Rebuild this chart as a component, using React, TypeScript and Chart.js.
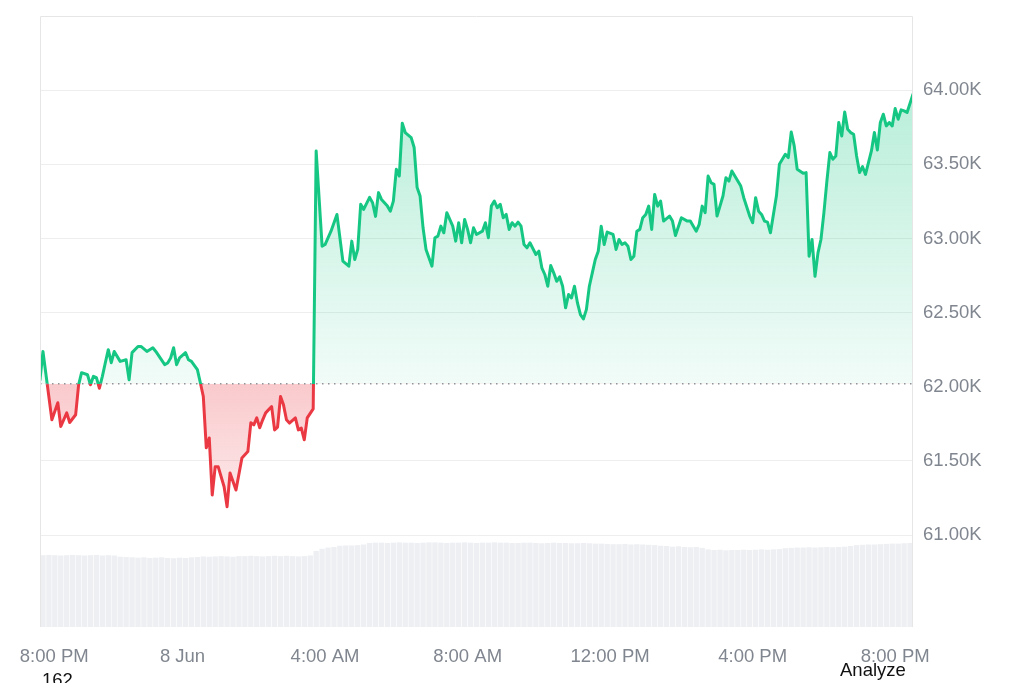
import React, { useEffect, useRef } from 'react';
import { Chart, registerables } from 'chart.js';

Chart.register(...registerables);

// ---- data ----
const BASELINE = 62020; // opening price of the 24h window (dotted line)

// minutes after 8:00 PM (7 Jun)
const TIMES = [
  0, 5, 20, 30, 35, 45, 50, 60, 65, 70, 80, 85, 90, 95, 100, 105, 110, 115, 120, 125,
  135, 145, 150, 155, 165, 170, 180, 190, 195, 210, 215, 220, 225, 230, 235, 245, 250, 255, 265, 270,
  275, 280, 285, 290, 295, 300, 310, 315, 320, 330, 340, 350, 355, 360, 365, 370, 375, 380, 390, 395,
  400, 405, 410, 415, 420, 430, 435, 440, 445, 450, 460, 465, 475, 480, 490, 500, 510, 520, 525, 530,
  535, 540, 545, 555, 560, 565, 570, 575, 585, 590, 595, 600, 605, 610, 615, 625, 630, 635, 640, 645,
  650, 660, 665, 670, 675, 680, 685, 695, 700, 705, 710, 715, 720, 725, 730, 735, 745, 750, 755, 760,
  765, 770, 775, 780, 785, 790, 795, 800, 805, 810, 815, 820, 825, 835, 840, 845, 850, 855, 860, 865,
  870, 875, 880, 885, 890, 895, 900, 905, 910, 915, 920, 925, 930, 935, 940, 945, 950, 955, 965, 970,
  975, 980, 985, 990, 995, 1000, 1005, 1010, 1015, 1020, 1025, 1030, 1035, 1040, 1045, 1050, 1060, 1065, 1070, 1080,
  1090, 1095, 1105, 1110, 1115, 1120, 1125, 1130, 1135, 1140, 1150, 1155, 1160, 1165, 1175, 1180, 1185, 1195, 1200, 1205,
  1210, 1215, 1220, 1225, 1230, 1240, 1245, 1250, 1255, 1260, 1265, 1270, 1275, 1285, 1290, 1295, 1300, 1305, 1310, 1315,
  1320, 1325, 1330, 1335, 1340, 1345, 1350, 1355, 1360, 1365, 1370, 1375, 1380, 1385, 1390, 1400, 1405, 1410, 1415, 1420,
  1425, 1430, 1435, 1440, 1445, 1450, 1455, 1460, 1470,
];

const PRICES = [
  62047, 62238, 61777, 61892, 61732, 61824, 61759, 61811, 62013, 62095, 62081, 62013, 62070, 62061, 61990, 62070, 62162, 62250, 62162, 62238,
  62171, 62182, 62047, 62230, 62272, 62272, 62238, 62263, 62238, 62149, 62160, 62194, 62263, 62149, 62194, 62230, 62182, 62171, 62115, 62027,
  61934, 61588, 61655, 61270, 61461, 61461, 61326, 61191, 61419, 61304, 61520, 61563, 61757, 61743, 61790, 61723, 61777, 61824, 61867, 61709,
  61728, 61934, 61878, 61777, 61755, 61790, 61709, 61721, 61642, 61790, 61851, 63590, 62948, 62959, 63049, 63162, 62847, 62813, 62982, 62858,
  62926, 63230, 63196, 63277, 63241, 63149, 63309, 63263, 63218, 63184, 63252, 63466, 63421, 63777, 63714, 63680, 63613, 63343, 63286, 63072,
  62926, 62813, 63005, 63016, 63083, 63038, 63174, 63083, 62982, 63106, 62971, 63128, 63061, 62971, 63072, 63027, 63049, 63106, 63005, 63218,
  63252, 63207, 63230, 63140, 63162, 63061, 63106, 63083, 63110, 63083, 62959, 62937, 62971, 62892, 62914, 62802, 62757, 62678, 62818, 62768,
  62711, 62741, 62678, 62532, 62622, 62599, 62678, 62565, 62486, 62457, 62520, 62678, 62768, 62858, 62914, 63083, 62959, 63043, 63027, 62926,
  62993, 62959, 62971, 62948, 62858, 62880, 63049, 63061, 63140, 63162, 63218, 63061, 63297, 63218, 63252, 63117, 63151, 63117, 63020, 63140,
  63117, 63117, 63049, 63095, 63218, 63174, 63421, 63376, 63365, 63151, 63286, 63410, 63387, 63455, 63387, 63353, 63275, 63151, 63106, 63275,
  63184, 63162, 63117, 63110, 63038, 63286, 63500, 63534, 63568, 63545, 63718, 63624, 63466, 63439, 63444, 62880, 62993, 62745, 62903, 62993,
  63174, 63387, 63579, 63534, 63556, 63782, 63691, 63853, 63736, 63714, 63703, 63556, 63444, 63484, 63432, 63590, 63714, 63597, 63782, 63838,
  63759, 63782, 63759, 63876, 63804, 63867, 63860, 63849, 63973,
];

// rolling 24h volume (billion USD), one bar per 10 minutes
const VOLUME_STEP_MIN = 10;
const VOLUME = [
  23.5, 23.6, 23.5, 23.4, 23.5, 23.6, 23.5, 23.4, 23.5, 23.6, 23.4, 23.5, 23.4,
  23.0, 22.9, 22.8, 22.7, 22.8, 22.6, 22.7, 22.8, 22.6, 22.5, 22.7, 22.6, 22.8, 22.9,
  23.1, 23.0, 23.1, 23.2, 23.1, 23.0, 23.2, 23.2, 23.3, 23.2, 23.1, 23.2, 23.3, 23.2, 23.3, 23.2, 23.1, 23.2, 23.4,
  24.9, 25.6, 26.0, 26.2,
  26.6, 26.7, 26.7, 26.8, 27.0,
  27.5, 27.6, 27.6, 27.5, 27.6, 27.7, 27.6, 27.6, 27.5, 27.6, 27.7, 27.7, 27.6, 27.5, 27.6, 27.6, 27.7, 27.6, 27.5, 27.6,
  27.6, 27.7, 27.6, 27.6, 27.5, 27.5, 27.6, 27.6, 27.5, 27.4, 27.5, 27.6, 27.5, 27.5, 27.4, 27.4, 27.5, 27.4, 27.3, 27.3,
  27.2, 27.1, 27.1, 27.2, 27.0, 27.1, 27.0, 26.9, 26.8,
  26.6, 26.5, 26.3, 26.4, 26.2, 26.1, 26.2, 25.9,
  25.4, 25.2, 25.3, 25.1, 25.2, 25.2, 25.3, 25.2, 25.3, 25.4, 25.3, 25.4, 25.5,
  25.8, 25.9, 26.0, 26.0, 26.1, 26.0, 26.1, 26.2, 26.1, 26.2, 26.3, 26.5,
  26.8, 26.9, 27.0, 27.0, 27.1, 27.2, 27.3, 27.3, 27.4, 27.5,
];

const X_MAX = 1470;
const X_TICK_VALUES = [24, 240, 480, 720, 960, 1200, 1440];
const X_TICK_LABELS = ['8:00 PM', '8 Jun', '4:00 AM', '8:00 AM', '12:00 PM', '4:00 PM', '8:00 PM'];
const Y_MIN = 60380;
const Y_MAX = 64500;
const Y_TICK_VALUES = [61000, 61500, 62000, 62500, 63000, 63500, 64000];
const VOL_AXIS_MAX = 200;

// ---- styles ----
const GREEN = '#16c784';
const RED = '#ea3943';
const TICK_COLOR = '#80868f';
const FONT_FAMILY = '"Liberation Sans", Arial, Helvetica, sans-serif';

function clamp01(v: number) {
  return Math.max(0, Math.min(1, v));
}

function lineColor(c: any) {
  const chart = c.chart;
  const area = chart.chartArea;
  if (!area || !chart.scales.y) return GREEN;
  const by = chart.scales.y.getPixelForValue(BASELINE);
  const f = clamp01((by - area.top) / (area.bottom - area.top));
  const g = chart.ctx.createLinearGradient(0, area.top, 0, area.bottom);
  g.addColorStop(0, GREEN);
  g.addColorStop(f, GREEN);
  g.addColorStop(f, RED);
  g.addColorStop(1, RED);
  return g;
}

function fillOption(c: any) {
  const chart = c.chart;
  const area = chart.chartArea;
  if (!area || !chart.scales.y) {
    return { target: { value: BASELINE }, above: 'rgba(22,199,132,0.15)', below: 'rgba(234,57,67,0.2)' };
  }
  const y = chart.scales.y;
  const by = y.getPixelForValue(BASELINE);
  const topY = y.getPixelForValue(64000);
  const lowY = y.getPixelForValue(61150);
  const above = chart.ctx.createLinearGradient(0, topY, 0, by);
  above.addColorStop(0, 'rgba(22,199,132,0.30)');
  above.addColorStop(1, 'rgba(22,199,132,0.06)');
  const below = chart.ctx.createLinearGradient(0, by, 0, lowY);
  below.addColorStop(0, 'rgba(234,57,67,0.27)');
  below.addColorStop(1, 'rgba(234,57,67,0.10)');
  return { target: { value: BASELINE }, above, below };
}

const framePlugin = {
  id: 'frame',
  afterDraw(chart: any) {
    const { ctx, chartArea } = chart;
    const { left, right, top, bottom } = chartArea;
    ctx.save();
    ctx.strokeStyle = '#e6e6e6';
    ctx.lineWidth = 1;
    ctx.beginPath();
    ctx.moveTo(Math.round(left) + 0.5, bottom);
    ctx.lineTo(Math.round(left) + 0.5, Math.round(top) + 0.5);
    ctx.lineTo(Math.round(right) - 0.5, Math.round(top) + 0.5);
    ctx.lineTo(Math.round(right) - 0.5, bottom);
    ctx.stroke();
    ctx.restore();
  },
};

export default function App() {
  const canvasRef = useRef<HTMLCanvasElement | null>(null);

  useEffect(() => {
    const canvas = canvasRef.current;
    if (!canvas) return;

    const pricePoints = TIMES.map((t, i) => ({ x: t, y: PRICES[i] }));
    const volumePoints = VOLUME.map((v, i) => ({ x: i * VOLUME_STEP_MIN + VOLUME_STEP_MIN / 2, y: v }));
    const baselinePoints = [
      { x: 0, y: BASELINE },
      { x: X_MAX, y: BASELINE },
    ];

    const chart = new Chart(canvas, {
      type: 'line',
      data: {
        datasets: [
          {
            type: 'line',
            label: 'Open',
            data: baselinePoints,
            borderColor: '#8f959d',
            borderWidth: 1.4,
            borderDash: [1.5, 4.5],
            pointRadius: 0,
            fill: false,
            order: 0,
          } as any,
          {
            type: 'line',
            label: 'Price',
            data: pricePoints,
            borderColor: lineColor,
            borderWidth: 3,
            borderJoinStyle: 'round',
            borderCapStyle: 'round',
            pointRadius: 0,
            tension: 0,
            fill: fillOption,
            order: 1,
          } as any,
          {
            type: 'bar',
            label: 'Volume',
            data: volumePoints,
            yAxisID: 'yVol',
            backgroundColor: '#edeff2',
            borderWidth: 0,
            barPercentage: 0.9,
            categoryPercentage: 1,
            order: 2,
          } as any,
        ],
      },
      options: {
        responsive: true,
        maintainAspectRatio: false,
        animation: false,
        events: [],
        layout: { padding: { left: 40, top: 16, right: 0, bottom: 0 } },
        plugins: {
          legend: { display: false },
          tooltip: { enabled: false },
        },
        scales: {
          x: {
            type: 'linear',
            min: 0,
            max: X_MAX,
            offset: false,
            grid: { display: false },
            border: { display: false },
            afterBuildTicks: (s: any) => {
              s.ticks = X_TICK_VALUES.map((v) => ({ value: v }));
            },
            afterFit: (s: any) => {
              s.height = 56;
              s.paddingLeft = 0;
              s.paddingRight = 0;
            },
            ticks: {
              autoSkip: false,
              maxRotation: 0,
              minRotation: 0,
              padding: 11,
              color: TICK_COLOR,
              font: { family: FONT_FAMILY, size: 18.5 },
              callback: (_v: any, i: number) => X_TICK_LABELS[i],
            },
          },
          y: {
            type: 'linear',
            position: 'right',
            min: Y_MIN,
            max: Y_MAX,
            afterBuildTicks: (s: any) => {
              s.ticks = Y_TICK_VALUES.map((v) => ({ value: v }));
            },
            afterFit: (s: any) => {
              s.width = 111;
              s.paddingTop = 0;
              s.paddingBottom = 0;
            },
            grid: {
              drawTicks: false,
              color: (c: any) => (c.tick && c.tick.value === 62000 ? 'rgba(0,0,0,0)' : '#eeeeee'),
              lineWidth: 1,
            },
            border: { display: false },
            ticks: {
              padding: 10,
              color: TICK_COLOR,
              font: { family: FONT_FAMILY, size: 18.5 },
              callback: (v: any) => (Number(v) / 1000).toFixed(2) + 'K',
            },
          },
          yVol: {
            type: 'linear',
            display: false,
            min: 0,
            max: VOL_AXIS_MAX,
          },
        },
      } as any,
      plugins: [framePlugin],
    });

    return () => {
      chart.destroy();
    };
  }, []);

  const textStyle: React.CSSProperties = {
    position: 'absolute',
    fontFamily: FONT_FAMILY,
    fontSize: 18.5,
    color: '#111',
    lineHeight: 'normal',
    whiteSpace: 'nowrap',
  };

  return (
    <div
      style={{
        position: 'absolute',
        left: 0,
        top: 0,
        width: 1024,
        height: 683,
        overflow: 'hidden',
        background: '#fff',
      }}
    >
      <div style={{ position: 'absolute', left: 0, top: 0, width: 1024, height: 683 }}>
        <canvas ref={canvasRef} />
      </div>
      <div style={{ ...textStyle, left: 42, top: 669 }}>162</div>
      <div style={{ ...textStyle, left: 840, top: 659 }}>Analyze</div>
    </div>
  );
}
